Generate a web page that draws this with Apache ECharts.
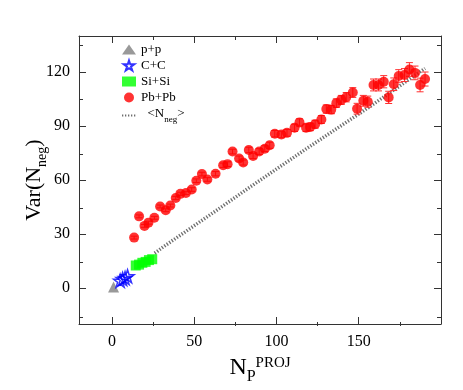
<!DOCTYPE html>
<html>
<head>
<meta charset="utf-8">
<script src="https://cdn.jsdelivr.net/npm/echarts@6/dist/echarts.min.js"></script>
<style>
  html, body { margin: 0; padding: 0; background: #fff; }
  #main { width: 463px; height: 390px; }
</style>
</head>
<body>
<div id="main"></div>
<script>
// p+p, C+C, Si+Si points: [N_P^PROJ, Var(N_neg)]
var ppData = [[1, 0.5]];
var ccData = [[5, 4], [6.5, 5], [8, 5.5], [9.5, 6.5]];
var siData = [[14.5, 12.5], [16.5, 13], [18.5, 14], [20.5, 14.5], [22.5, 15.5], [24.5, 16]];

// Pb+Pb points and their errors
var pbX = [13.5, 16.5, 19.8, 22.2, 25.8, 29.3, 32.7, 35.5, 38.8, 41.6,
           45, 48.5, 51.3, 54.7, 58, 63, 67.6, 70.3, 73.3, 77.3,
           79.8, 83.2, 85.8, 89.5, 92.9, 95.9, 99, 103, 106.4, 111,
           114, 118, 120.5, 123.5, 127.3, 130.3, 133.3, 136.4, 139.4, 142.4,
           146.4, 149, 152.8, 155.5, 159, 162, 165.2, 168.2, 171.3, 174.3,
           177.8, 180.8, 184.2, 187.3, 190.3];
var pbY = [28, 39.8, 34.5, 36.3, 39, 45.3, 43.2, 45.8, 50, 52.3,
           52.8, 54.7, 59.6, 63.3, 60.3, 63.5, 68.2, 68.8, 75.8, 71.9,
           69.7, 76.7, 73.4, 75.8, 77.4, 79.3, 85.7, 85.3, 86.2, 89,
           92, 89, 89.5, 91, 93.6, 99.4, 99.1, 102.7, 104.5, 106,
           108.6, 99.6, 104, 103.5, 112.8, 112.8, 114.6, 105.9, 113.2, 117.8,
           118.3, 121.4, 119.5, 112.8, 116.1];
var pbErr = [0.8, 0.8, 0.8, 0.8, 0.8, 0.8, 0.8, 0.8, 0.9, 0.9,
             0.9, 1, 1, 1, 1, 1.2, 1.2, 1.3, 1.3, 1.4,
             1.4, 1.5, 1.5, 1.6, 1.6, 1.7, 1.8, 1.8, 1.9, 2,
             2, 2.1, 2.1, 2.2, 2.2, 2.3, 2.3, 2.4, 2.5, 2.6,
             2.7, 3, 3, 3.1, 3.3, 3.3, 3.4, 3.4, 3.5, 3.5,
             3.6, 3.8, 3.8, 3.8, 3.9];

// <N_neg> curve
var negLine = [[26, 19.3], [31.3, 22.9], [62.6, 42.5], [83.8, 56], [119.2, 78], [155.5, 100], [190.3, 122]];

var xMajor = [0, 50, 100, 150];
var xMinor = [25, 75, 125, 175];
var yMajor = [0, 30, 60, 90, 120];
var yMinor = [-15, 15, 45, 75, 105, 135];

var pbData = pbX.map(function (x, i) { return [x, pbY[i]]; });
var pbErrData = pbX.map(function (x, i) { return [x, pbY[i], pbErr[i]]; });

var FONT = 'Liberation Serif';
var AXC = '#333';
var starPath = 'path://M50,0 L61.8,36.2 L100,36.2 L69.1,58.6 L80.9,95.1 L50,72.7 L19.1,95.1 L30.9,58.6 L0,36.2 L38.2,36.2 Z';

function axis(grid, pos, min, max, ticks, len, labels, extra) {
  var a = {
    type: 'value', gridIndex: grid, position: pos, min: min, max: max,
    axisLine: { show: grid === 0, onZero: false, lineStyle: { color: AXC, width: 1 } },
    axisTick: { show: true, inside: true, length: len, customValues: ticks, lineStyle: { color: AXC } },
    axisLabel: labels ? { customValues: ticks, fontFamily: FONT, fontSize: 16, color: '#000', margin: labels } : { show: false },
    splitLine: { show: false }
  };
  return Object.assign(a, extra || {});
}

var chart = echarts.init(document.getElementById('main'));
chart.setOption({
  animation: false,
  backgroundColor: '#fff',
  grid: [
    { left: 79, right: 22, top: 36, bottom: 64 },
    { left: 79, right: 22, top: 36, bottom: 64 }
  ],
  legend: {
    orient: 'vertical', left: 116, top: 38,
    itemWidth: 14, itemHeight: 10, itemGap: 3,
    data: ['p+p', 'C+C', 'Si+Si', 'Pb+Pb',
      { name: 'Nneg', itemStyle: { color: 'rgba(0,0,0,0)', borderWidth: 0 } }],
    textStyle: {
      fontFamily: FONT, fontSize: 13, color: '#000',
      rich: {
        a: { fontFamily: FONT, fontSize: 13, color: '#000', verticalAlign: 'bottom', padding: [0, 0, 4, 0] },
        s: { fontFamily: FONT, fontSize: 9, color: '#000', verticalAlign: 'bottom' }
      }
    },
    formatter: function (name) {
      if (name === 'Nneg') return '{a|  <N}{s|neg}{a|>}';
      return name;
    }
  },
  xAxis: [
    axis(0, 'bottom', -20, 200, xMajor, 7, 10, {
      name: '{n|N}{p|P}{s|PROJ}', nameLocation: 'middle', nameGap: 32,
      nameTextStyle: {
        rich: {
          n: { fontFamily: FONT, fontSize: 24, color: '#000', verticalAlign: 'bottom', padding: [0, 0, 5, 0] },
          p: { fontFamily: FONT, fontSize: 16, color: '#000', verticalAlign: 'bottom' },
          s: { fontFamily: FONT, fontSize: 15, color: '#000', verticalAlign: 'top' }
        }
      }
    }),
    axis(0, 'top', -20, 200, xMajor, 7, 0),
    axis(1, 'bottom', -20, 200, xMinor, 4, 0),
    axis(1, 'top', -20, 200, xMinor, 4, 0)
  ],
  yAxis: [
    axis(0, 'left', -20, 140, yMajor, 7, 9, {
      name: '{a|Var(N}{s|neg}{a|)}', nameLocation: 'middle', nameGap: 30, nameRotate: 90,
      nameMoveOverlap: false,
      nameTextStyle: {
        rich: {
          a: { fontFamily: FONT, fontSize: 22, color: '#000', verticalAlign: 'bottom', padding: [0, 0, 4, 0] },
          s: { fontFamily: FONT, fontSize: 14, color: '#000', verticalAlign: 'bottom' }
        }
      }
    }),
    axis(0, 'right', -20, 140, yMajor, 7, 0),
    axis(1, 'left', -20, 140, yMinor, 4, 0),
    axis(1, 'right', -20, 140, yMinor, 4, 0)
  ],
  series: [
    {
      name: 'Nneg', type: 'line', data: negLine, symbol: 'none', smooth: false,
      lineStyle: { color: '#6e6e6e', width: 3.5, type: [1.3, 1.7] },
      itemStyle: { color: '#6e6e6e' }, z: 1
    },
    {
      name: 'p+p', type: 'scatter', data: ppData, symbol: 'triangle', symbolSize: 11,
      itemStyle: { color: '#808080' }, z: 3
    },
    {
      name: 'C+C', type: 'scatter', data: ccData, symbol: starPath, symbolSize: 13,
      itemStyle: { color: 'rgba(0,0,0,0)', borderColor: '#0000ff', borderWidth: 1.5 }, z: 4
    },
    {
      name: 'Si+Si', type: 'scatter', data: siData, symbol: 'rect', symbolSize: 10,
      itemStyle: { color: '#00ff00' }, z: 3
    },
    {
      name: 'Pb+Pb-err', type: 'custom', data: pbErrData, z: 2,
      renderItem: function (params, api) {
        var x = api.value(0), y = api.value(1), e = api.value(2);
        var lo = api.coord([x, y - e]);
        var hi = api.coord([x, y + e]);
        var c = '#ff3030';
        var w = 3.5;
        return {
          type: 'group',
          children: [
            { type: 'line', shape: { x1: lo[0], y1: lo[1], x2: hi[0], y2: hi[1] }, style: { stroke: c, lineWidth: 1 } },
            { type: 'line', shape: { x1: lo[0] - w, y1: lo[1], x2: lo[0] + w, y2: lo[1] }, style: { stroke: c, lineWidth: 1 } },
            { type: 'line', shape: { x1: hi[0] - w, y1: hi[1], x2: hi[0] + w, y2: hi[1] }, style: { stroke: c, lineWidth: 1 } }
          ]
        };
      }
    },
    {
      name: 'Pb+Pb', type: 'scatter', data: pbData, symbol: 'circle', symbolSize: 10,
      itemStyle: { color: '#ff0000' }, z: 3
    }
  ]
});
</script>
</body>
</html>
